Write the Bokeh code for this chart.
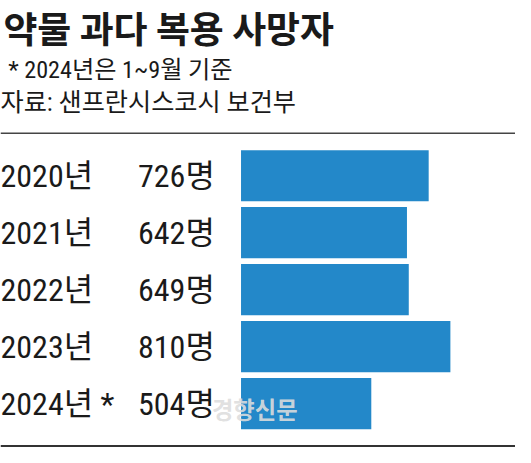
from bokeh.plotting import figure
from bokeh.models import Range1d, ColumnDataSource
from bokeh.core.properties import value
from bokeh.embed import file_html
from bokeh.resources import INLINE

# ---- data ----
title = "약물 과다 복용 사망자"
note = "* 2024년은 1~9월 기준"
source_txt = "자료: 샌프란시스코시 보건부"
years = ["2020년", "2021년", "2022년", "2023년", "2024년 *"]
deaths = [726, 642, 649, 810, 504]
unit = "명"
watermark = "경향신문"

# ---- layout (reference pixel space 531x463 mapped onto 515x447 figure) ----
W, H = 515, 447
REF_W, REF_H = 531, 463
S = W / REF_W
BAR_X0 = 248.0          # reference px of bar origin
K = 0.2665              # reference px per person
def px(x):
    return (x - BAR_X0) / K

BAR_C0, BAR_PITCH, BAR_H = 181.5, 59.0, 53.0
centers = [BAR_C0 + i * BAR_PITCH for i in range(len(years))]

BLUE = "#2388c9"
NARROW = "'Roboto Condensed', 'Noto Sans CJK KR', sans-serif"
KR = "'Noto Sans CJK KR', sans-serif"

p = figure(width=W, height=H, output_backend="svg", toolbar_location=None,
           x_range=Range1d(px(0), px(REF_W)), y_range=Range1d(REF_H, 0),
           min_border=0, outline_line_color=None)
p.axis.visible = False
p.grid.visible = False
p.background_fill_color = "white"
p.border_fill_color = "white"

src = ColumnDataSource(dict(
    y=centers, v=deaths, zero=[0] * len(deaths),
    yl=years, vl=[f"{d}{unit}" for d in deaths],
    xl=[px(0)] * len(deaths), xv=[px(221)] * len(deaths),
))

p.hbar(y="y", left="zero", right="v", height=BAR_H, source=src,
       fill_color=BLUE, line_color=None)

LBL = f"{33*S:.1f}px"
p.text(x="xl", y="y", text="yl", source=src, text_font=value(NARROW),
       text_font_size=LBL, text_color="#1a1a1a",
       text_align="left", text_baseline="middle")
p.text(x="xv", y="y", text="vl", source=src, text_font=value(NARROW),
       text_font_size=LBL, text_color="#1a1a1a",
       text_align="right", text_baseline="middle")

# title & notes
p.text(x=[px(3)], y=[27], text=[title], text_font=value(KR),
       text_font_style="bold", text_font_size=f"{38*S:.1f}px",
       text_color="#1a1a1a", text_align="left", text_baseline="middle")
p.text(x=[px(8)], y=[72], text=[note], text_font=value(NARROW),
       text_font_size=f"{25*S:.1f}px", text_color="#1a1a1a",
       text_align="left", text_baseline="middle")
p.text(x=[px(0)], y=[106], text=[source_txt], text_font=value(NARROW),
       text_font_size=f"{26*S:.1f}px", text_color="#1a1a1a",
       text_align="left", text_baseline="middle")

# rules
p.segment(x0=[px(0)], x1=[px(REF_W)], y0=[137.5], y1=[137.5],
          line_color="#444444", line_width=1.6)
p.segment(x0=[px(0)], x1=[px(REF_W)], y0=[461.5], y1=[461.5],
          line_color="#333333", line_width=2.2)

# watermark
p.text(x=[px(218)], y=[423], text=[watermark], text_font=value(KR),
       text_font_style="bold", text_font_size=f"{24*S:.1f}px",
       text_color="#dddddd", text_alpha=0.9, text_align="left",
       text_baseline="middle")

open("out.html", "w").write(file_html(p, INLINE))
